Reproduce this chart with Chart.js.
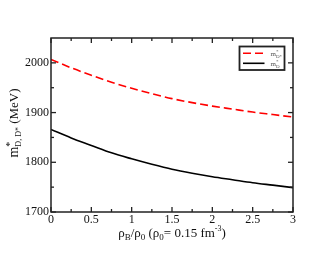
<!DOCTYPE html>
<html>
<head>
<meta charset="utf-8">
<script src="https://cdn.jsdelivr.net/npm/chart.js@4/dist/chart.umd.min.js"></script>
<style>
html,body{margin:0;padding:0;background:#fff;}
canvas{display:block;}
</style>
</head>
<body>
<canvas id="c" width="330" height="255"></canvas>
<script>
const rho = [0, 0.25, 0.5, 0.75, 1.0, 1.25, 1.5, 1.75, 2.0, 2.25, 2.5, 2.75, 3.0];
const mDstar = [2007, 1990, 1975, 1961, 1949, 1938, 1928, 1920, 1913, 1907, 1901, 1896, 1891];
const mD = [1866, 1849, 1834, 1819, 1807, 1796, 1786, 1778, 1771, 1765, 1759, 1754, 1749];
const xRange = [0, 3];
const yRange = [1700, 2050];

const FONT = "'Liberation Serif', 'Times New Roman', Times, serif";

function drawRich(ctx, parts, x, y, align) {
  let total = 0;
  let i = 0;
  const adv = [];
  while (i < parts.length) {
    const p = parts[i];
    ctx.font = p.size + "px " + FONT;
    let w = ctx.measureText(p.t).width;
    if (p.stack && i + 1 < parts.length) {
      const q = parts[i + 1];
      ctx.font = q.size + "px " + FONT;
      const w2 = ctx.measureText(q.t).width;
      adv.push({idx: [i, i + 1], w: Math.max(w, w2)});
      total += Math.max(w, w2);
      i += 2;
    } else {
      adv.push({idx: [i], w: w});
      total += w;
      i += 1;
    }
  }
  let cx = align === 'center' ? x - total / 2 : (align === 'right' ? x - total : x);
  ctx.textBaseline = 'alphabetic';
  ctx.textAlign = 'left';
  adv.forEach(a => {
    a.idx.forEach(k => {
      const p = parts[k];
      ctx.font = p.size + "px " + FONT;
      ctx.fillText(p.t, cx, y + (p.dy || 0));
    });
    cx += a.w;
  });
}

const decor = {
  id: 'decor',
  afterDatasetsDraw(chart) {
    const ctx = chart.ctx;
    const a = chart.chartArea;
    const xs = chart.scales.x, ys = chart.scales.y;
    ctx.save();
    ctx.strokeStyle = '#222';
    ctx.lineWidth = 1.3;
    const xt = xs.ticks.map(t => t.value);
    const yt = ys.ticks.map(t => t.value);
    const line = (x1, y1, x2, y2) => { ctx.beginPath(); ctx.moveTo(x1, y1); ctx.lineTo(x2, y2); ctx.stroke(); };
    const MAJ = 5, MIN = 3;
    xt.forEach((v, k) => {
      const px = xs.getPixelForValue(v);
      line(px, a.bottom, px, a.bottom - MAJ);
      line(px, a.top, px, a.top + MAJ);
      if (k + 1 < xt.length) {
        const pm = xs.getPixelForValue((v + xt[k + 1]) / 2);
        line(pm, a.bottom, pm, a.bottom - MIN);
        line(pm, a.top, pm, a.top + MIN);
      }
    });
    yt.forEach((v, k) => {
      const py = ys.getPixelForValue(v);
      line(a.left, py, a.left + MAJ, py);
      line(a.right, py, a.right - MAJ, py);
      const nv = k + 1 < yt.length ? yt[k + 1] : v + (yt[1] - yt[0]);
      const mv = (v + nv) / 2;
      if (mv < ys.max) {
        const pm = ys.getPixelForValue(mv);
        line(a.left, pm, a.left + MIN, pm);
        line(a.right, pm, a.right - MIN, pm);
      }
    });
    ctx.lineWidth = 1.5;
    ctx.strokeRect(a.left, a.top, a.right - a.left, a.bottom - a.top);

    // legend
    const lx = 239.5, ly = 46.5, lw = 45, lh = 23.5;
    ctx.fillStyle = '#fff';
    ctx.fillRect(lx, ly, lw, lh);
    ctx.lineWidth = 1.8;
    ctx.strokeStyle = '#222';
    ctx.strokeRect(lx, ly, lw, lh);
    const ds = chart.data.datasets;
    [0, 1].forEach(k => {
      const d = ds[k];
      const yy = ly + 6.8 + k * 10;
      ctx.beginPath();
      ctx.strokeStyle = d.borderColor;
      ctx.lineWidth = d.borderWidth;
      ctx.setLineDash(d.borderDash || []);
      ctx.moveTo(lx + 3.5, yy);
      ctx.lineTo(lx + 25, yy);
      ctx.stroke();
      ctx.setLineDash([]);
    });
    ctx.fillStyle = '#555';
    drawRich(ctx, [
      {t: 'm', size: 7},
      {t: '*', size: 5, dy: -3, stack: true},
      {t: 'D*', size: 5, dy: 2}
    ], lx + 31, ly + 9, 'left');
    drawRich(ctx, [
      {t: 'm', size: 7},
      {t: '*', size: 5, dy: -3, stack: true},
      {t: 'D', size: 5, dy: 2}
    ], lx + 31, ly + 19, 'left');

    // axis titles
    ctx.fillStyle = '#111';
    drawRich(ctx, [
      {t: 'ρ', size: 13},
      {t: 'B', size: 9, dy: 3},
      {t: '/ρ', size: 13},
      {t: '0', size: 9, dy: 3},
      {t: ' (ρ', size: 13},
      {t: '0', size: 9, dy: 3},
      {t: '= 0.15 fm', size: 13},
      {t: '-3', size: 8, dy: -6},
      {t: ')', size: 13}
    ], (a.left + a.right) / 2, 237, 'center');

    ctx.save();
    ctx.translate(17.5, 123);
    ctx.rotate(-Math.PI / 2);
    drawRich(ctx, [
      {t: 'm', size: 14},
      {t: '*', size: 10, dy: -5, stack: true},
      {t: 'D, D*', size: 8, dy: 3},
      {t: ' (MeV)', size: 13}
    ], 0, 0, 'center');
    ctx.restore();
    ctx.restore();
  }
};

const tickFont = {family: FONT, size: 12};

function build() {
  new Chart(document.getElementById('c'), {
    type: 'line',
    data: {
      datasets: [
        {
          label: 'm*D*',
          data: rho.map((x, i) => ({x: x, y: mDstar[i]})),
          borderColor: '#ff0000',
          borderWidth: 1.6,
          borderDash: [8, 4],
          pointRadius: 0,
          cubicInterpolationMode: 'monotone',
          fill: false
        },
        {
          label: 'm*D',
          data: rho.map((x, i) => ({x: x, y: mD[i]})),
          borderColor: '#000000',
          borderWidth: 1.6,
          pointRadius: 0,
          cubicInterpolationMode: 'monotone',
          fill: false
        }
      ]
    },
    options: {
      responsive: false,
      animation: false,
      devicePixelRatio: 1,
      layout: {padding: {top: 38, right: 37, left: 0, bottom: 0}},
      plugins: {legend: {display: false}, tooltip: {enabled: false}, title: {display: false}},
      scales: {
        x: {
          type: 'linear',
          min: xRange[0], max: xRange[1],
          grid: {display: false, drawTicks: false},
          border: {display: false},
          ticks: {stepSize: 0.5, font: tickFont, color: '#111', padding: 1, maxRotation: 0,
            callback: v => String(v)},
          afterFit: s => { s.height = 43; }
        },
        y: {
          type: 'linear',
          min: yRange[0], max: yRange[1],
          grid: {display: false, drawTicks: false},
          border: {display: false},
          ticks: {stepSize: 100, includeBounds: false, font: tickFont, color: '#111', padding: 2,
            callback: v => String(v)},
          afterFit: s => { s.width = 51; }
        }
      }
    },
    plugins: [decor]
  });
}

if (document.fonts && document.fonts.load) {
  Promise.all([
    document.fonts.load("12px 'Liberation Serif'"),
    document.fonts.load("12px 'Liberation Serif'", "ρ0123")
  ]).then(build, build);
} else {
  build();
}
</script>
</body>
</html>
